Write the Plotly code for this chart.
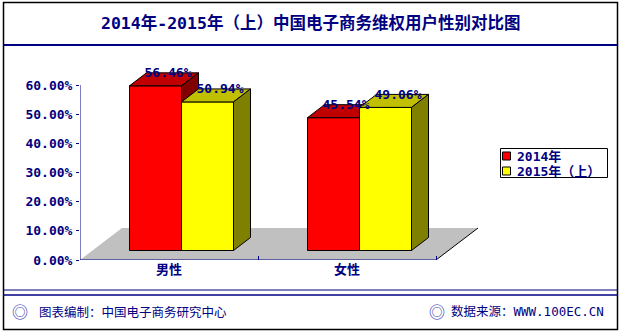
import plotly.graph_objects as go

# ---------------- data ----------------
categories = ["男性", "女性"]
series_names = ["2014年", "2015年（上）"]
values_2014 = [56.46, 45.54]
values_2015 = [50.94, 49.06]
y_ticks = [0, 10, 20, 30, 40, 50, 60]
title_text = "2014年-2015年（上）中国电子商务维权用户性别对比图"
footer_left = "图表编制：中国电子商务研究中心"
footer_right = "数据来源：WWW.100EC.CN"

# ---------------- style ----------------
W, H = 621, 333
PL, PR, PT, PB = 80, 616, 60, 260          # plot area in pixels
X_PX = 178.0                               # pixels per category unit
Y_PX = 175.0 / 60.0                        # pixels per percent
x_min = -0.5
x_max = x_min + (PR - PL) / X_PX
y_max = (PB - PT) / Y_PX

FLOOR_DX, FLOOR_DY = 42 / X_PX, 32 / Y_PX
BAR_DX, BAR_DY = 17 / X_PX, 13 / Y_PX
OFF_DX, OFF_DY = (FLOOR_DX - BAR_DX) / 2, (FLOOR_DY - BAR_DY) / 2
BAR_W = 52 / X_PX

NAVY = "#000080"
colors = [
    dict(front="#FF0000", top="#C00000", side="#800000"),
    dict(front="#FFFF00", top="#C0C000", side="#808000"),
]
MONO = "DejaVu Sans Mono, Noto Sans CJK SC"
CJK = "Noto Sans CJK SC, DejaVu Sans"

fig = go.Figure()

# floor
n = len(categories)
x_end = x_min + n
fig.add_trace(go.Scatter(
    x=[x_min, x_end, x_end + FLOOR_DX, x_min + FLOOR_DX, x_min],
    y=[0, 0, FLOOR_DY, FLOOR_DY, 0],
    fill="toself", fillcolor="#C0C0C0", mode="lines", line=dict(width=0),
    showlegend=False, hoverinfo="skip"))
fig.add_trace(go.Scatter(
    x=[x_end, x_end + FLOOR_DX], y=[0, FLOOR_DY], mode="lines",
    line=dict(color="#000000", width=1), showlegend=False, hoverinfo="skip"))

series = [values_2014, values_2015]


def poly(xs, ys, color, name):
    fig.add_trace(go.Scatter(
        x=xs + [xs[0]], y=ys + [ys[0]], fill="toself", fillcolor=color,
        mode="lines", line=dict(color="#000000", width=1), name=name,
        showlegend=False, hoverinfo="skip"))


label_x, label_y, label_t = [], [], []
for ci in range(n):
    for si, vals in enumerate(series):
        v = vals[ci]
        x0 = ci + OFF_DX - BAR_W + si * BAR_W
        x1 = x0 + BAR_W
        b = OFF_DY
        t = OFF_DY + v
        c = colors[si]
        nm = series_names[si]
        poly([x0, x1, x1, x0], [b, b, t, t], c["front"], nm)
        poly([x0, x1, x1 + BAR_DX, x0 + BAR_DX], [t, t, t + BAR_DY, t + BAR_DY], c["top"], nm)
        poly([x1, x1 + BAR_DX, x1 + BAR_DX, x1], [b, b + BAR_DY, t + BAR_DY, t], c["side"], nm)
        label_x.append((x0 + x1) / 2 + BAR_DX / 2 + 4 / X_PX)
        label_y.append(t + BAR_DY / 2 - 1 / Y_PX)
        label_t.append(f"{v:.2f}%")

fig.add_trace(go.Scatter(
    x=label_x, y=label_y, text=label_t, mode="text", textposition="top center",
    textfont=dict(family=MONO, size=13, color=NAVY, weight="bold"),
    cliponaxis=False, showlegend=False, hoverinfo="skip"))


def px_x(p):
    return (p - PL) / (PR - PL)


def px_y(p):
    return (PB - p) / (PB - PT)


# axis lines
shapes = [
    dict(type="line", xref="x", yref="y", x0=x_min, x1=x_min, y0=0, y1=y_ticks[-1],
         line=dict(color=NAVY, width=1)),
    dict(type="line", xref="x", yref="y", x0=x_min, x1=x_end, y0=0, y1=0,
         line=dict(color=NAVY, width=1)),
]

# frame
shapes += [
    dict(type="rect", xref="paper", yref="paper", x0=px_x(3.5), x1=px_x(617.5),
         y0=px_y(329.5), y1=px_y(2.5), line=dict(color="#000000", width=1.5)),
    dict(type="line", xref="paper", yref="paper", x0=px_x(3.5), x1=px_x(617.5),
         y0=px_y(45), y1=px_y(45), line=dict(color=NAVY, width=2)),
    dict(type="line", xref="paper", yref="paper", x0=px_x(3.5), x1=px_x(617.5),
         y0=px_y(290), y1=px_y(290), line=dict(color=NAVY, width=1)),
    dict(type="line", xref="paper", yref="paper", x0=px_x(3.5), x1=px_x(617.5),
         y0=px_y(295), y1=px_y(295), line=dict(color=NAVY, width=1.5)),
]

# legend box and keys
LEG_L, LEG_R, LEG_T, LEG_B = 500.5, 607.5, 148.5, 177.5
LEG_ROWS = [156, 171]
shapes.append(dict(type="rect", xref="paper", yref="paper",
                   x0=px_x(LEG_L), x1=px_x(LEG_R), y0=px_y(LEG_B), y1=px_y(LEG_T),
                   line=dict(color="#000000", width=1), fillcolor="white"))
annotations = []
for si, name in enumerate(series_names):
    yc = LEG_ROWS[si]
    shapes.append(dict(type="rect", xref="paper", yref="paper",
                       x0=px_x(502.5), x1=px_x(510.5), y0=px_y(yc + 4), y1=px_y(yc - 4),
                       line=dict(color="#000000", width=1),
                       fillcolor=colors[si]["front"]))
    annotations.append(dict(text=f"<b>{name}</b>", xref="paper", yref="paper",
                            x=px_x(515), y=px_y(yc), showarrow=False,
                            xanchor="left", yanchor="middle",
                            font=dict(family=MONO, size=13, color=NAVY)))

annotations += [
    dict(text=f"<b>{title_text}</b>", xref="paper", yref="paper",
         x=px_x(310), y=px_y(23), showarrow=False, xanchor="center", yanchor="middle",
         font=dict(family=MONO, size=16.5, color=NAVY)),
    dict(text="◎", xref="paper", yref="paper", x=px_x(20), y=px_y(311),
         showarrow=False, xanchor="center", yanchor="middle",
         font=dict(family="Noto Sans CJK SC, DejaVu Sans", size=16, color="#3030B0")),
    dict(text=footer_left, xref="paper", yref="paper", x=px_x(37), y=px_y(311),
         showarrow=False, xanchor="left", yanchor="middle",
         font=dict(family=CJK, size=12.5, color=NAVY)),
    dict(text="◎", xref="paper", yref="paper", x=px_x(437), y=px_y(311),
         showarrow=False, xanchor="center", yanchor="middle",
         font=dict(family="Noto Sans CJK SC, DejaVu Sans", size=16, color="#3030B0")),
    dict(text=footer_right, xref="paper", yref="paper", x=px_x(606), y=px_y(311),
         showarrow=False, xanchor="right", yanchor="middle",
         font=dict(family=MONO, size=12.5, color=NAVY)),
]

fig.update_layout(
    width=W, height=H,
    margin=dict(l=PL, r=W - PR, t=PT, b=H - PB, pad=0),
    paper_bgcolor="white", plot_bgcolor="white",
    shapes=shapes, annotations=annotations,
    showlegend=False,
    xaxis=dict(range=[x_min, x_max], showgrid=False, zeroline=False, showline=False,
               tickmode="array", tickvals=list(range(n)), ticktext=categories,
               ticks="", tickfont=dict(family=CJK, size=13, color=NAVY, weight="bold"),
               minor=dict(tickmode="array", tickvals=[x_min + i + 1 for i in range(n)],
                          ticks="inside", ticklen=4, tickcolor=NAVY),
               fixedrange=True),
    yaxis=dict(range=[0, y_max], showgrid=False, zeroline=False, showline=False,
               tickmode="array", tickvals=y_ticks,
               ticktext=[f"{v:.2f}%" for v in y_ticks],
               ticks="outside", ticklen=3, tickcolor=NAVY, ticklabelstandoff=1,
               tickfont=dict(family=MONO, size=13, color=NAVY, weight="bold"),
               fixedrange=True),
)

fig.write_html("out.html")
